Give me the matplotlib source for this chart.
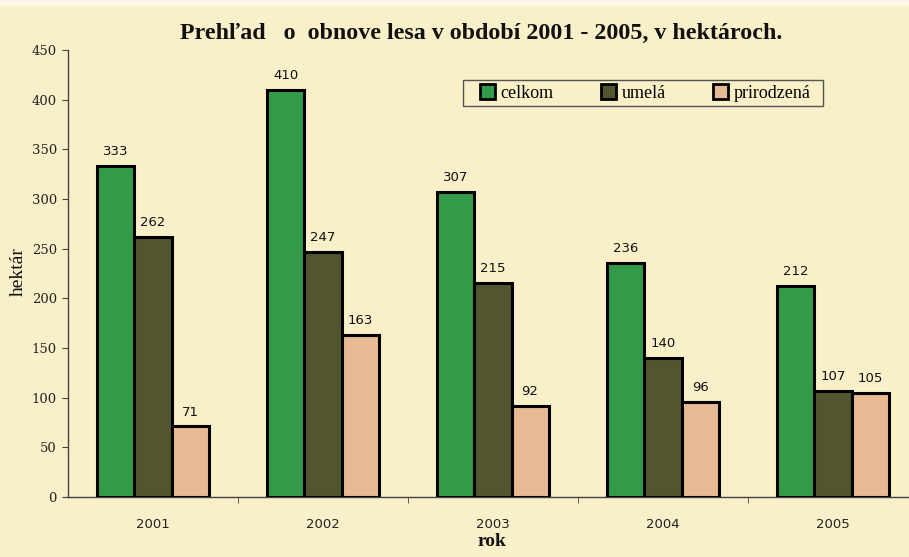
import matplotlib
matplotlib.use("Agg")
import matplotlib.pyplot as plt
import numpy as np
from matplotlib.patches import Patch, Rectangle

years = ["2001", "2002", "2003", "2004", "2005"]
series_names = ["celkom", "umelá", "prirodzená"]
celkom = [333, 410, 307, 236, 212]
umela = [262, 247, 215, 140, 107]
prirodzena = [71, 163, 92, 96, 105]
series = [celkom, umela, prirodzena]
colors = ["#339a4a", "#52552f", "#e6ba92"]
yticks = [0, 50, 100, 150, 200, 250, 300, 350, 400, 450]

BG = "#f9efc8"
W, H = 909, 557
fig = plt.figure(figsize=(W / 100, H / 100), dpi=100, facecolor=BG)
fig.patches.append(Rectangle((0, 1 - 6 / H), 1, 6 / H, transform=fig.transFigure,
                             facecolor="#fdf6e6", edgecolor="none", zorder=0))

ax = fig.add_axes([68 / W, (H - 497) / H, 850 / W, 447 / H])
ax.set_facecolor(BG)

x = np.arange(len(years))
bw = 0.218
for i, (vals, c) in enumerate(zip(series, colors)):
    pos = x + (i - 1) * bw
    ax.bar(pos, vals, width=bw, color=c, edgecolor="black", linewidth=2.2,
           label=series_names[i], zorder=3)
    for px, v in zip(pos, vals):
        ax.text(px, v + 8, str(v), ha="center", va="bottom", fontsize=9.5,
                family="DejaVu Sans", color="#111111")

ax.set_xlim(-0.5, len(years) - 0.5)
ax.set_ylim(0, 450)
ax.set_yticks(yticks)
ax.set_yticklabels([str(t) for t in yticks], family="DejaVu Serif", fontsize=9.5,
                   color="#222222")
ax.set_xticks(x)
ax.set_xticklabels(years, family="DejaVu Sans", fontsize=9.5, color="#222222")
ax.set_xticks(np.arange(len(years) - 1) + 0.5, minor=True)
ax.tick_params(axis="x", which="major", length=0, pad=15)
ax.tick_params(axis="x", which="minor", length=4, direction="out", color="#444444")
ax.tick_params(axis="y", length=4, direction="out", color="#444444", pad=4)
for s in ["top", "right"]:
    ax.spines[s].set_visible(False)
for s in ["left", "bottom"]:
    ax.spines[s].set_color("#444444")
    ax.spines[s].set_linewidth(1)

fig.text(481 / W, 1 - 33 / H, "Prehľad   o  obnove lesa v období 2001 - 2005, v hektároch.",
         ha="center", va="center", fontsize=17.3, fontweight="bold",
         family="Liberation Serif", color="#111111")
fig.text(18 / W, 1 - 272 / H, "hektár", rotation=90, ha="center", va="center",
         fontsize=14, family="Liberation Serif", color="#111111")
fig.text(492 / W, 1 - 541 / H, "rok", ha="center", va="center",
         fontsize=14, fontweight="bold", family="Liberation Serif", color="#111111")

# legend frame drawn separately
fig.patches.append(Rectangle((463 / W, 1 - 106 / H), 360 / W, 26 / H,
                             transform=fig.transFigure, facecolor=BG,
                             edgecolor="#555555", linewidth=1, zorder=1))
handles = [Patch(facecolor=c, edgecolor="black", linewidth=2) for c in colors]
leg = fig.legend(handles, series_names, loc="center",
                 bbox_to_anchor=(645 / W, 1 - 93 / H), ncol=3, frameon=False,
                 prop={"family": "Liberation Serif", "size": 13},
                 handlelength=0.85, handleheight=0.85, handletextpad=0.3,
                 columnspacing=2.6, borderpad=0.25, borderaxespad=0)
leg.set_zorder(5)

fig.savefig("out.png", dpi=100, facecolor=BG)
